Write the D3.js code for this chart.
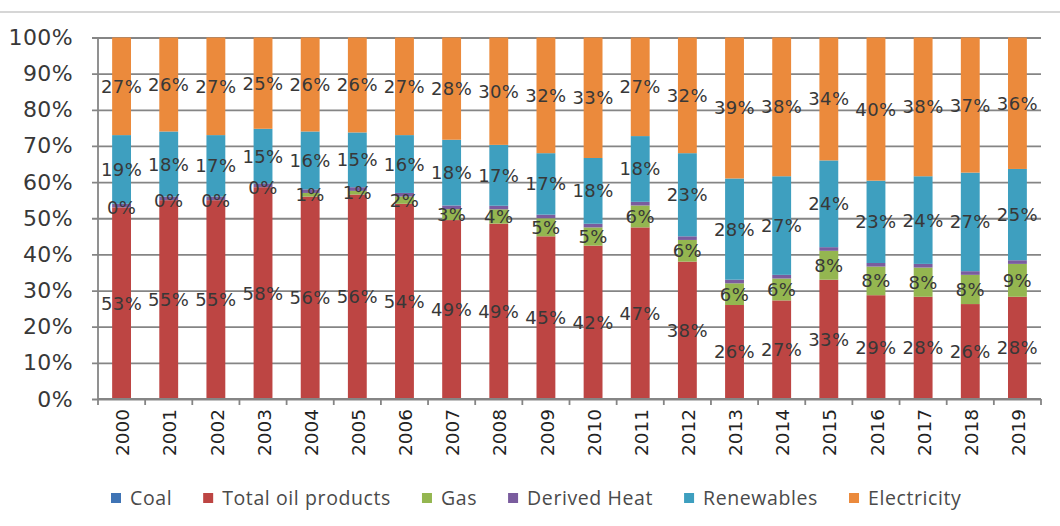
<!DOCTYPE html>
<html>
<head>
<meta charset="utf-8">
<script src="https://cdnjs.cloudflare.com/ajax/libs/d3/7.8.5/d3.min.js"></script>
<style>
  body { margin: 0; background: #fff; }
  svg { display: block; }
</style>
</head>
<body>
<div id="chart"></div>
<script>
// shares of final energy consumption (%)
var years = ["2000","2001","2002","2003","2004","2005","2006","2007","2008","2009",
             "2010","2011","2012","2013","2014","2015","2016","2017","2018","2019"];
var coal        = [0,0,0,0,0,0,0,0,0,0, 0,0,0,0,0,0,0,0,0,0];
var oil         = [53,55,55,58,56,56,54,49,49,45, 42,47,38,26,27,33,29,28,26,28];
var gas         = [0,0,0,0,1,1,2,3,4,5, 5,6,6,6,6,8,8,8,8,9];
var derivedHeat = [1,1,1,1,1,1,1,1,1,1, 1,1,1,1,1,1,1,1,1,1];
var renewables  = [19,18,17,15,16,15,16,18,17,17, 18,18,23,28,27,24,23,24,27,25];
var electricity = [27,26,27,25,26,26,27,28,30,32, 33,27,32,39,38,34,40,38,37,36];
var yTicks = [0,0.1,0.2,0.3,0.4,0.5,0.6,0.7,0.8,0.9,1];

var seriesNames = ["Coal","Total oil products","Gas","Derived Heat","Renewables","Electricity"];
var seriesVals = [coal, oil, gas, derivedHeat, renewables, electricity];
var colors = ["#3f74b5","#bd4543","#94b650","#7a5c9e","#3e9fbf","#eb8a3c"];
var labelled = ["Total oil products","Gas","Renewables","Electricity"];

var rows = years.map(function(y, i) {
  var r = {year: y};
  seriesNames.forEach(function(s, k) { r[s] = seriesVals[k][i]; });
  return r;
});

var W = 1060, H = 526;
var plotLeft = 98, plotRight = 1041, plotTop = 37.5, plotBottom = 399;

var svg = d3.select("#chart").append("svg")
  .attr("width", W)
  .attr("height", H);

// thin frame line at top of the picture
svg.append("line")
  .attr("x1", 0).attr("x2", W)
  .attr("y1", 12).attr("y2", 12)
  .attr("stroke", "#c9c9c9").attr("stroke-width", 1.5);

var x = d3.scaleBand()
  .domain(years)
  .range([plotLeft, plotRight])
  .paddingInner(0.6)
  .paddingOuter(0.3);

var y = d3.scaleLinear()
  .domain([0, 1])
  .range([plotBottom, plotTop]);

// gridlines + y axis
var yAxis = svg.append("g")
  .attr("transform", "translate(" + plotLeft + ",0)")
  .call(d3.axisLeft(y)
    .tickValues(yTicks)
    .tickFormat(d3.format(".0%"))
    .tickSize(-(plotRight - plotLeft))
    .tickPadding(25));
yAxis.select(".domain").remove();
yAxis.selectAll(".tick line")
  .attr("x1", -6)
  .attr("stroke", "#858585")
  .attr("stroke-width", 1.8);
yAxis.selectAll(".tick text")
  .attr("fill", "#383838")
  .style("font-family", "'DejaVu Sans', sans-serif")
  .style("font-size", "22px")
  .style("letter-spacing", "0.4px");

svg.append("line")
  .attr("x1", plotLeft).attr("x2", plotLeft)
  .attr("y1", plotTop).attr("y2", plotBottom)
  .attr("stroke", "#858585").attr("stroke-width", 1.8);

var stack = d3.stack()
  .keys(seriesNames)
  .offset(d3.stackOffsetExpand);
var stacked = stack(rows);

var groups = svg.selectAll("g.series")
  .data(stacked)
  .enter()
  .append("g")
  .attr("class", "series")
  .attr("fill", function(d, i) { return colors[i]; });

groups.selectAll("rect")
  .data(function(d) { return d; })
  .enter()
  .append("rect")
  .attr("x", function(d) { return x(d.data.year); })
  .attr("width", x.bandwidth())
  .attr("y", function(d) { return y(d[1]); })
  .attr("height", function(d) { return y(d[0]) - y(d[1]); });

// x axis with ticks between categories
var step = x.step();
var boundaries = d3.range(years.length + 1).map(function(i) { return plotLeft + i * step; });
svg.append("line")
  .attr("x1", plotLeft).attr("x2", plotRight)
  .attr("y1", plotBottom).attr("y2", plotBottom)
  .attr("stroke", "#858585").attr("stroke-width", 1.8);
svg.selectAll("line.xtick")
  .data(boundaries)
  .enter()
  .append("line")
  .attr("class", "xtick")
  .attr("x1", function(d) { return d; })
  .attr("x2", function(d) { return d; })
  .attr("y1", plotBottom)
  .attr("y2", plotBottom + 6)
  .attr("stroke", "#858585").attr("stroke-width", 1.8);

svg.selectAll("text.year")
  .data(years)
  .enter()
  .append("text")
  .attr("class", "year")
  .attr("transform", function(d) {
    return "translate(" + (x(d) + x.bandwidth() / 2 + 1) + "," + (plotBottom + 10) + ") rotate(-90)";
  })
  .attr("text-anchor", "end")
  .attr("dy", "0.36em")
  .attr("fill", "#222")
  .style("font-family", "'DejaVu Sans', sans-serif")
  .style("font-size", "18.5px")
  .text(function(d) { return d; });

// data labels
var labelLayer = svg.append("g");
stacked.filter(function(s) { return labelled.indexOf(s.key) >= 0; }).forEach(function(s) {
  labelLayer.selectAll(null)
    .data(s)
    .enter()
    .append("text")
    .attr("x", function(d) { return x(d.data.year) + x.bandwidth() / 2; })
    .attr("y", function(d) { return y((d[0] + d[1]) / 2); })
    .attr("dy", "0.36em")
    .attr("text-anchor", "middle")
    .attr("fill", "#383838")
    .style("font-family", "'DejaVu Sans', sans-serif")
    .style("font-size", "18px")
    .style("letter-spacing", "0.4px")
    .text(function(d) { return d.data[s.key] + "%"; });
});

// legend
var legend = svg.append("g").attr("transform", "translate(111,498)");
var lx = 0;
seriesNames.forEach(function(name, i) {
  var item = legend.append("g").attr("transform", "translate(" + lx + ",0)");
  item.append("rect")
    .attr("x", 0).attr("y", -5)
    .attr("width", 10).attr("height", 10)
    .attr("fill", colors[i]);
  var t = item.append("text")
    .attr("x", 19)
    .attr("dy", "0.35em")
    .attr("fill", "#4a4a4a")
    .style("font-family", "'Open Sans', sans-serif")
    .style("font-size", "19.5px")
    .style("letter-spacing", "0.6px")
    .text(name);
  lx += 19 + t.node().getComputedTextLength() + 31;
});
</script>
</body>
</html>
